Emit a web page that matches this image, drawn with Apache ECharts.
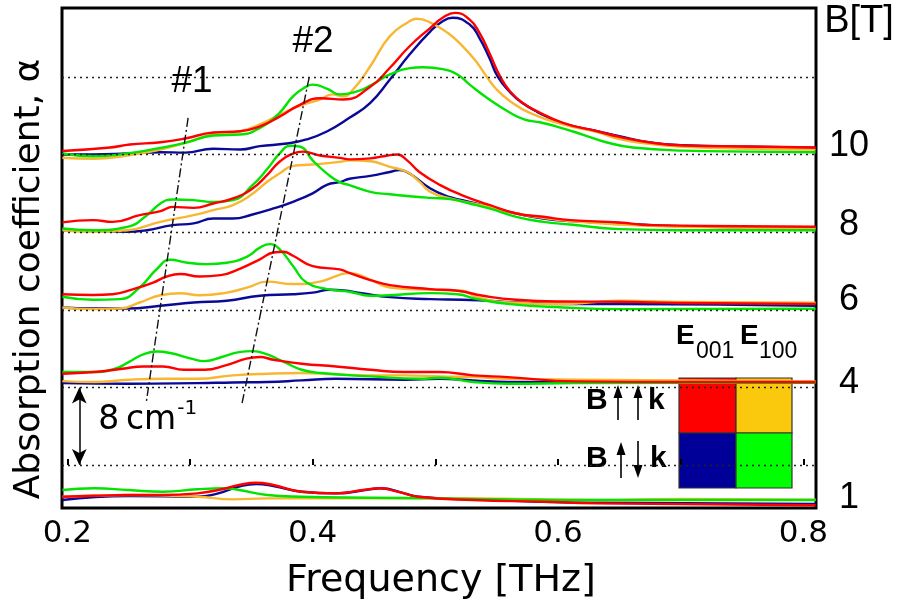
<!DOCTYPE html>
<html>
<head>
<meta charset="utf-8">
<script src="https://cdn.jsdelivr.net/npm/echarts@6/dist/echarts.min.js"></script>
<style>
  html, body { margin: 0; padding: 0; background: #fff; }
  #chart { width: 902px; height: 606px; }
</style>
</head>
<body>
<div id="chart"></div>
<script>
// Absorption spectra, [frequency THz, alpha cm^-1 above the trace's own baseline]
// red: B||k, E||[001]   orange: B||k, E||[100]   blue: B anti k, E||[001]   green: B anti k, E||[100]
const red10 = [[0.196,0.36],[0.235,0.72],[0.251,1.03],[0.276,1.27],[0.296,1.65],[0.319,2.27],[0.341,2.4],[0.357,2.9],[0.373,3.9],[0.390,5.15],[0.406,5.8],[0.425,5.67],[0.447,6.98],[0.463,8.94],[0.479,11.16],[0.496,13.06],[0.506,14.09],[0.516,14.6],[0.528,13.9],[0.536,12.54],[0.544,10.48],[0.553,8.0],[0.561,6.5],[0.571,5.33],[0.583,4.46],[0.604,3.27],[0.632,2.4],[0.650,1.82],[0.675,1.24],[0.702,0.93],[0.756,0.82],[0.810,0.72]];
const orange10 = [[0.196,-0.34],[0.221,-0.44],[0.249,-0.1],[0.276,0.52],[0.296,1.2],[0.319,2.06],[0.341,2.4],[0.357,3.1],[0.373,4.1],[0.390,5.05],[0.406,5.67],[0.416,6.2],[0.425,6.0],[0.433,6.7],[0.447,9.1],[0.463,12.2],[0.479,13.74],[0.485,13.99],[0.496,13.6],[0.510,12.54],[0.522,11.2],[0.534,9.46],[0.542,8.0],[0.550,6.7],[0.561,5.5],[0.577,4.3],[0.604,3.1],[0.632,2.3],[0.650,1.6],[0.675,1.1],[0.702,0.8],[0.756,0.6],[0.810,0.5]];
const blue10 = [[0.196,0.0],[0.221,0.0],[0.249,0.1],[0.276,0.24],[0.296,0.2],[0.319,0.59],[0.341,0.52],[0.357,0.86],[0.379,1.13],[0.395,1.55],[0.412,2.4],[0.430,3.78],[0.447,5.33],[0.463,7.73],[0.479,10.3],[0.496,12.7],[0.506,13.74],[0.514,14.09],[0.528,13.4],[0.536,12.0],[0.544,9.97],[0.551,8.0],[0.561,6.4],[0.571,5.3],[0.583,4.4],[0.604,3.2],[0.632,2.4],[0.650,1.89],[0.675,1.24],[0.702,0.95],[0.756,0.8],[0.810,0.7]];
const green10 = [[0.196,0.1],[0.221,-0.18],[0.249,0.1],[0.276,0.69],[0.296,1.2],[0.319,1.96],[0.341,2.06],[0.357,2.75],[0.373,4.3],[0.384,6.0],[0.395,7.0],[0.400,7.2],[0.412,6.77],[0.422,6.2],[0.436,6.5],[0.447,7.1],[0.463,8.25],[0.479,8.9],[0.490,9.0],[0.506,8.8],[0.518,8.25],[0.528,7.2],[0.544,5.67],[0.561,4.3],[0.573,3.6],[0.586,3.3],[0.601,2.8],[0.620,2.06],[0.640,1.24],[0.661,0.72],[0.702,0.4],[0.756,0.3],[0.810,0.24]];

const red8 = [[0.196,1.0],[0.221,1.24],[0.237,1.06],[0.259,1.75],[0.276,2.16],[0.286,2.6],[0.303,2.5],[0.319,2.95],[0.335,3.47],[0.351,4.5],[0.363,5.9],[0.373,7.25],[0.384,8.1],[0.392,8.3],[0.406,7.9],[0.422,7.66],[0.430,7.5],[0.447,7.6],[0.461,7.9],[0.469,8.0],[0.477,7.4],[0.487,6.2],[0.504,4.85],[0.522,3.8],[0.544,2.8],[0.566,1.92],[0.588,1.58],[0.610,1.24],[0.650,1.0],[0.675,0.72],[0.750,0.6],[0.810,0.55]];
const orange8 = [[0.196,0.2],[0.221,0.03],[0.249,0.2],[0.276,1.06],[0.303,1.75],[0.319,2.27],[0.335,2.78],[0.351,3.95],[0.363,5.2],[0.373,6.05],[0.384,6.83],[0.400,6.97],[0.422,7.24],[0.430,7.4],[0.447,7.3],[0.463,6.73],[0.477,6.2],[0.487,5.2],[0.496,4.15],[0.512,3.47],[0.544,2.6],[0.566,1.92],[0.588,1.47],[0.610,1.13],[0.650,0.79],[0.700,0.55],[0.810,0.4]];
const blue8 = [[0.196,0.2],[0.221,0.13],[0.249,0.03],[0.265,0.2],[0.286,0.72],[0.303,0.9],[0.319,1.4],[0.335,1.4],[0.351,1.82],[0.368,2.44],[0.384,3.13],[0.400,4.0],[0.412,4.9],[0.422,5.15],[0.430,5.5],[0.447,5.8],[0.463,6.2],[0.471,6.4],[0.479,6.04],[0.496,4.5],[0.512,3.6],[0.522,3.3],[0.544,2.6],[0.566,1.92],[0.588,1.4],[0.610,1.13],[0.650,0.9],[0.700,0.6],[0.810,0.4]];
const green8 = [[0.196,0.38],[0.221,0.2],[0.249,0.55],[0.265,1.75],[0.276,2.96],[0.286,3.36],[0.303,3.3],[0.319,3.1],[0.335,3.3],[0.351,4.85],[0.363,6.5],[0.373,8.1],[0.382,8.9],[0.390,8.8],[0.400,7.4],[0.412,6.0],[0.422,5.15],[0.430,4.85],[0.447,4.15],[0.463,3.9],[0.479,3.7],[0.496,3.53],[0.512,3.4],[0.528,2.95],[0.544,2.44],[0.566,1.58],[0.588,1.06],[0.610,0.79],[0.650,0.31],[0.700,0.2],[0.810,0.2]];

const red6 = [[0.196,1.6],[0.221,1.52],[0.237,1.6],[0.254,2.13],[0.270,2.8],[0.281,3.43],[0.292,3.68],[0.308,3.43],[0.325,3.57],[0.341,4.25],[0.357,5.2],[0.368,5.9],[0.376,5.98],[0.384,5.57],[0.400,4.5],[0.422,4.16],[0.430,3.8],[0.447,3.06],[0.463,2.54],[0.496,2.13],[0.518,1.96],[0.539,1.44],[0.566,1.03],[0.604,0.85],[0.650,0.82],[0.700,0.7],[0.810,0.6]];
const orange6 = [[0.196,0.24],[0.221,0.07],[0.243,0.13],[0.259,0.75],[0.276,1.5],[0.292,1.7],[0.308,1.5],[0.330,1.77],[0.347,2.3],[0.363,2.9],[0.384,2.65],[0.406,2.9],[0.422,3.6],[0.430,3.78],[0.447,3.1],[0.463,2.3],[0.496,2.06],[0.522,1.96],[0.534,1.27],[0.561,0.75],[0.604,0.59],[0.650,0.93],[0.700,0.8],[0.810,0.72]];
const blue6 = [[0.196,0.24],[0.221,0.13],[0.249,0.13],[0.276,0.41],[0.303,0.75],[0.330,0.93],[0.357,1.44],[0.384,1.6],[0.400,1.77],[0.414,2.06],[0.425,2.0],[0.440,1.7],[0.463,1.3],[0.496,1.1],[0.522,1.03],[0.544,0.93],[0.566,0.75],[0.604,0.59],[0.650,0.59],[0.810,0.4]];
const green6 = [[0.196,1.34],[0.221,1.03],[0.243,1.1],[0.259,2.3],[0.273,4.2],[0.284,5.15],[0.298,4.85],[0.314,4.7],[0.330,4.85],[0.347,5.5],[0.357,6.4],[0.365,6.77],[0.373,6.25],[0.384,4.5],[0.395,2.8],[0.412,2.13],[0.422,1.96],[0.430,1.86],[0.447,1.44],[0.463,1.5],[0.496,1.72],[0.518,1.6],[0.534,1.1],[0.561,0.58],[0.604,0.24],[0.650,0.07],[0.810,0.1]];

const red4 = [[0.196,1.41],[0.222,1.58],[0.245,1.92],[0.262,2.16],[0.278,2.16],[0.295,1.82],[0.312,1.82],[0.329,2.27],[0.346,2.96],[0.357,3.13],[0.368,2.85],[0.391,2.44],[0.419,2.16],[0.447,1.82],[0.475,1.58],[0.503,1.58],[0.531,1.24],[0.559,1.06],[0.615,0.62],[0.700,0.55],[0.810,0.55]];
const orange4 = [[0.196,0.65],[0.222,0.55],[0.250,0.79],[0.278,0.89],[0.306,0.89],[0.335,1.24],[0.363,1.41],[0.391,1.48],[0.419,1.34],[0.447,1.24],[0.475,1.24],[0.503,1.13],[0.531,1.06],[0.559,0.89],[0.615,0.79],[0.810,0.6]];
const blue4 = [[0.196,0.44],[0.250,0.38],[0.306,0.44],[0.335,0.51],[0.363,0.55],[0.391,0.72],[0.419,0.89],[0.475,0.79],[0.503,0.89],[0.531,0.72],[0.559,0.55],[0.615,0.55],[0.810,0.5]];
const green4 = [[0.196,1.58],[0.222,1.58],[0.239,1.92],[0.250,2.6],[0.262,3.4],[0.273,3.7],[0.284,3.54],[0.301,2.96],[0.312,2.71],[0.326,3.13],[0.340,3.64],[0.351,3.74],[0.363,3.4],[0.377,2.6],[0.391,1.82],[0.407,1.48],[0.447,1.13],[0.489,0.89],[0.503,1.0],[0.531,0.55],[0.559,0.38],[0.615,0.44],[0.810,0.5]];

const red1 = [[0.196,0.73],[0.222,0.83],[0.250,0.91],[0.278,0.91],[0.306,1.08],[0.323,1.42],[0.340,1.94],[0.354,2.17],[0.368,1.94],[0.391,1.25],[0.419,1.08],[0.441,1.42],[0.455,1.6],[0.469,1.25],[0.486,0.73],[0.531,0.39],[0.587,0.22],[0.632,0.05],[0.810,-0.15]];
const orange1 = [[0.196,0.73],[0.250,0.91],[0.306,0.73],[0.335,0.46],[0.363,0.56],[0.391,0.56],[0.531,0.56],[0.632,0.39],[0.700,0.5],[0.810,0.42]];
const blue1 = [[0.196,0.39],[0.250,0.8],[0.306,0.73],[0.323,1.08],[0.340,1.77],[0.354,2.04],[0.368,1.83],[0.391,1.25],[0.419,1.08],[0.447,1.5],[0.455,1.6],[0.475,1.08],[0.486,0.73],[0.531,0.46],[0.632,0.11],[0.810,0.0]];
const green1 = [[0.196,1.42],[0.222,1.6],[0.250,1.42],[0.278,1.25],[0.306,1.5],[0.329,1.6],[0.340,1.42],[0.363,0.91],[0.391,0.73],[0.447,0.63],[0.503,0.56],[0.559,0.46],[0.615,0.39],[0.810,0.39]];

// Field values and the vertical offset (cm^-1) of each group of traces
const fieldLabels = ['10', '8', '6', '4', '1'];
const fieldOffsets = [32, 24, 16, 8, -4];
const baselineLevels = [0, 8, 16, 24, 32, 40];

// Frequency ticks
const freqTicks = [0.2, 0.3, 0.4, 0.5, 0.6, 0.7, 0.8];
const freqLabels = [0.2, 0.4, 0.6, 0.8];

// Dash-dot guides following modes #1 and #2 through the field series
const guide1 = [[0.2985, 35.77], [0.2643, 6.39]];
const guide2 = [[0.3971, 39.9], [0.3425, 6.39]];

// 8 cm^-1 scale bar
const scaleFreq = 0.2098;
const scaleSpan = [0, 8];

const traceColors = { red: '#ff0000', orange: '#f7b731', blue: '#0a0a96', green: '#00e400' };
const legendColors = { red: '#ff0000', orange: '#fac80c', blue: '#000099', green: '#00ff00' };

const traceSets = [
  { blue: blue10, orange: orange10, green: green10, red: red10 },
  { blue: blue8, orange: orange8, green: green8, red: red8 },
  { blue: blue6, orange: orange6, green: green6, red: red6 },
  { blue: blue4, orange: orange4, green: green4, red: red4 },
  { blue: blue1, orange: orange1, green: green1, red: red1 }
];

const FONT = 'DejaVu Sans';
const ARIAL = 'Liberation Sans';

const chart = echarts.init(document.getElementById('chart'), null, { renderer: 'canvas' });

const series = [];

// dotted baselines
series.push({
  type: 'line', data: [], symbol: 'none', silent: true, z: 1,
  markLine: {
    symbol: 'none', silent: true, animation: false,
    label: { show: false },
    lineStyle: { color: '#222', type: [2, 4], width: 1.4 },
    data: baselineLevels.map(v => ({ yAxis: v }))
  }
});

traceSets.forEach((set, i) => {
  ['blue', 'orange', 'green', 'red'].forEach(c => {
    series.push({
      type: 'line',
      data: set[c].map(p => [p[0], p[1] + fieldOffsets[i]]),
      smooth: 0.5,
      symbol: 'none',
      silent: true,
      z: 2,
      lineStyle: { color: traceColors[c], width: 2.4, join: 'round' }
    });
  });
});

[guide1, guide2].forEach(g => {
  series.push({
    type: 'line', data: g, symbol: 'none', silent: true, z: 4,
    lineStyle: { color: '#111', width: 1.4, type: [9, 3, 2, 3] }
  });
});

// scale bar
series.push({
  type: 'line', data: [], symbol: 'none', silent: true, z: 4,
  markLine: {
    silent: true, animation: false,
    symbol: ['arrow', 'arrow'], symbolSize: [11, 16],
    label: { show: false },
    lineStyle: { color: '#000', type: 'solid', width: 1.5 },
    data: [[{ coord: [scaleFreq, scaleSpan[0]] }, { coord: [scaleFreq, scaleSpan[1]] }]]
  }
});

chart.setOption({
  animation: false,
  backgroundColor: '#fff',
  grid: { left: 62, right: 86, top: 8, bottom: 98, show: true, borderColor: '#000', borderWidth: 3 },
  xAxis: {
    type: 'value', min: 0.1957, max: 0.8103,
    axisLine: { show: false },
    splitLine: { show: false },
    axisTick: { show: true, inside: true, length: 6, customValues: freqTicks, lineStyle: { color: '#000', width: 2 } },
    axisLabel: {
      customValues: freqLabels, formatter: v => v.toFixed(1),
      fontFamily: FONT, fontSize: 31, color: '#000', margin: 10
    }
  },
  yAxis: { type: 'value', min: -4.43, max: 47.1, show: false },
  series: series
});

// annotations placed from data coordinates
const px = (f, v) => chart.convertToPixel({ gridIndex: 0 }, [f, v]);
const graphics = [];

// axis titles
graphics.push({
  type: 'text', x: 441, y: 581, z: 10,
  style: { text: 'Frequency [THz]', font: `38px "${FONT}"`, fill: '#000', textAlign: 'center', textVerticalAlign: 'middle' }
});
graphics.push({
  type: 'text', x: 30, y: 279, rotation: Math.PI / 2, z: 10,
  style: { text: 'Absorption coefficient, \u03b1', font: `36px "${FONT}"`, fill: '#000', textAlign: 'center', textVerticalAlign: 'middle' }
});

// field labels on the right
graphics.push({
  type: 'text', x: 859, y: 22, z: 10,
  style: { text: 'B[T]', font: `38px "${ARIAL}"`, fill: '#000', textAlign: 'center', textVerticalAlign: 'middle' }
});
const labelLift = [0.9, 0.74, 1.0, 0.45, 0.6];
fieldLabels.forEach((t, i) => {
  const p = px(0.8, fieldOffsets[i] + labelLift[i]);
  graphics.push({
    type: 'text', x: 849, y: p[1], z: 10,
    style: { text: t, font: `36px "${ARIAL}"`, fill: '#000', textAlign: 'center', textVerticalAlign: 'middle' }
  });
});

// mode labels at the top of the guides
[[guide1, '#1'], [guide2, '#2']].forEach(([g, t]) => {
  const p = px(g[0][0], g[0][1]);
  graphics.push({
    type: 'text', x: p[0] + 4, y: p[1] - 36, z: 10,
    style: { text: t, font: `37px "${ARIAL}"`, fill: '#000', textAlign: 'center', textVerticalAlign: 'middle' }
  });
});

// scale bar text
const sb = px(scaleFreq, 4);
graphics.push({
  type: 'text', x: sb[0] + 19, y: sb[1] - 6, z: 10,
  style: { text: '8\u2009cm', font: `33px "${FONT}"`, fill: '#000', textAlign: 'left', textVerticalAlign: 'middle' }
});
graphics.push({
  type: 'text', x: sb[0] + 98, y: sb[1] - 17, z: 10,
  style: { text: '-1', font: `20px "${FONT}"`, fill: '#000', textAlign: 'left', textVerticalAlign: 'middle' }
});

// polarisation / field-direction key
const key = [];
key.push({ type: 'rect', shape: { x: 578, y: 316, width: 223, height: 176 }, style: { fill: '#fff' } });
key.push({ type: 'text', x: 676, y: 336, style: { text: 'E', font: `bold 28px "${ARIAL}"`, fill: '#000', textVerticalAlign: 'middle' } });
key.push({ type: 'text', x: 696, y: 352, style: { text: '001', font: `23px "${ARIAL}"`, fill: '#000', textVerticalAlign: 'middle' } });
key.push({ type: 'text', x: 740, y: 336, style: { text: 'E', font: `bold 28px "${ARIAL}"`, fill: '#000', textVerticalAlign: 'middle' } });
key.push({ type: 'text', x: 759, y: 352, style: { text: '100', font: `23px "${ARIAL}"`, fill: '#000', textVerticalAlign: 'middle' } });

const cells = [
  [679, 378, 57, 55, legendColors.red], [736, 378, 56, 55, legendColors.orange],
  [679, 433, 57, 55, legendColors.blue], [736, 433, 56, 55, legendColors.green]
];
cells.forEach(c => key.push({
  type: 'rect', shape: { x: c[0], y: c[1], width: c[2], height: c[3] },
  style: { fill: c[4], stroke: '#333', lineWidth: 1.2 }
}));

function arrow(x, yTail, yTip) {
  const dir = yTip < yTail ? 1 : -1;
  key.push({ type: 'line', shape: { x1: x, y1: yTail, x2: x, y2: yTip + dir * 10 }, style: { stroke: '#000', lineWidth: 1.6 } });
  key.push({ type: 'polygon', shape: { points: [[x, yTip], [x - 4.5, yTip + dir * 13], [x + 4.5, yTip + dir * 13]] }, style: { fill: '#000' } });
}
// B parallel k
key.push({ type: 'text', x: 586, y: 401, style: { text: 'B', font: `bold 30px "${ARIAL}"`, fill: '#000', textVerticalAlign: 'middle' } });
arrow(618, 420, 385);
arrow(638, 420, 385);
key.push({ type: 'text', x: 648, y: 401, style: { text: 'k', font: `bold 30px "${ARIAL}"`, fill: '#000', textVerticalAlign: 'middle' } });
// B antiparallel k
key.push({ type: 'text', x: 586, y: 459, style: { text: 'B', font: `bold 30px "${ARIAL}"`, fill: '#000', textVerticalAlign: 'middle' } });
arrow(621, 478, 442);
arrow(638, 441, 478);
key.push({ type: 'text', x: 650, y: 459, style: { text: 'k', font: `bold 30px "${ARIAL}"`, fill: '#000', textVerticalAlign: 'middle' } });

graphics.push({ type: 'group', z: 20, children: key });

chart.setOption({ graphic: graphics });
</script>
</body>
</html>
